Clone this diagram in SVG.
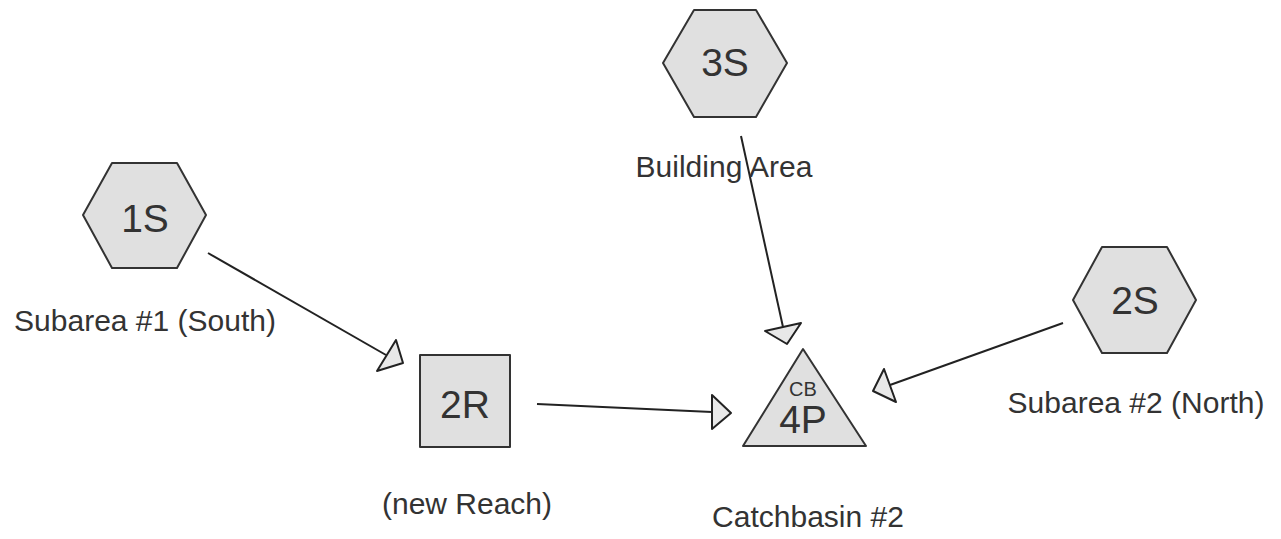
<svg xmlns="http://www.w3.org/2000/svg" width="1281" height="539" viewBox="0 0 1281 539">
<style>
.shape{fill:#e0e0e0;stroke:#333;stroke-width:2;stroke-linejoin:round}
.line{stroke:#222;stroke-width:2;fill:none}
.head{fill:#e8e8e8;stroke:#222;stroke-width:2;stroke-linejoin:round}
text{font-family:"Liberation Sans",Arial,sans-serif;fill:#333;text-anchor:middle}
.id{font-size:39px}
.lbl{font-size:30px}
.cb{font-size:20px}
</style>
<rect width="1281" height="539" fill="#fff"/>
<g id="connectors">
<line class="line" x1="208" y1="253" x2="386" y2="355"/>
<polygon class="head" points="396,340 377,371 403,363"/>
<line class="line" x1="537" y1="404" x2="712" y2="412"/>
<polygon class="head" points="712,395 712,429 731,413"/>
<line class="line" x1="741" y1="136" x2="783" y2="327"/>
<polygon class="head" points="765,331 801,323 787,344"/>
<line class="line" x1="1063" y1="323" x2="890" y2="385"/>
<polygon class="head" points="884,369 896,402 873,391"/>
</g>
<g id="node-1S">
<polygon class="shape" points="83,215 112,163 177,163 206,215 177,268 112,268"/>
<text class="id" x="145" y="232">1S</text>
<text class="lbl" x="145" y="331">Subarea #1 (South)</text>
</g>
<g id="node-3S">
<polygon class="shape" points="663,63 694,10 756,10 787,63 756,117 694,117"/>
<text class="id" x="725" y="76">3S</text>
<text class="lbl" x="724" y="177">Building Area</text>
</g>
<g id="node-2S">
<polygon class="shape" points="1073,300 1102,247 1167,247 1196,300 1167,353 1102,353"/>
<text class="id" x="1135" y="314">2S</text>
<text class="lbl" x="1136" y="413">Subarea #2 (North)</text>
</g>
<g id="node-2R">
<rect class="shape" x="420" y="355" width="90" height="92" stroke-linejoin="miter"/>
<text class="id" x="465" y="418">2R</text>
<text class="lbl" x="467" y="514">(new Reach)</text>
</g>
<g id="node-4P">
<polygon class="shape" points="803,349 866,446 743,446"/>
<text class="cb" x="803" y="396">CB</text>
<text class="id" x="803" y="433">4P</text>
<text class="lbl" x="808" y="527">Catchbasin #2</text>
</g>
</svg>
